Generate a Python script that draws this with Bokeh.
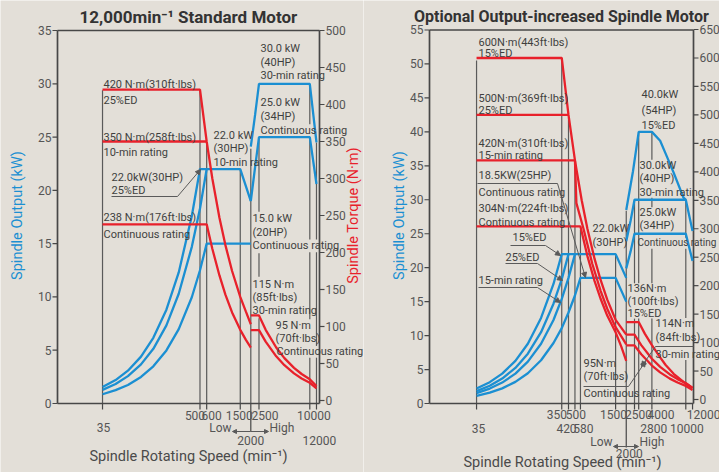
import math
from bokeh.plotting import figure
from bokeh.models import Range1d, Label, Arrow, NormalHead
from bokeh.layouts import row
from bokeh.embed import file_html
from bokeh.resources import INLINE

# ======================= DATA : 12,000 min-1 standard motor (left) =======================
L_KW_TICKS = [0, 5, 10, 15, 20, 25, 30, 35]
L_NM_TICKS = [0, 50, 100, 150, 200, 250, 300, 350, 400, 450, 500]
L_SPEED_TICKS = [35, 500, 600, 1500, 2000, 2500, 10000, 12000]
L_SPEED_LABELS = ["35", "500", "600", "1500", "2000", "2500", "10000", "12000"]

L_B25ED_N = [35, 50, 70, 100, 140, 200, 280, 400, 500, 1500, 2000]
L_B25ED_KW = [1.54, 2.20, 3.08, 4.40, 6.16, 8.80, 12.3, 17.6, 22.0, 22.0, 19.0]
L_B10M_N = [35, 50, 70, 100, 140, 200, 280, 400, 500, 600]
L_B10M_KW = [1.28, 1.83, 2.57, 3.67, 5.13, 7.33, 10.3, 14.7, 18.3, 22.0]
L_BCONT_N = [35, 50, 70, 100, 140, 200, 280, 400, 500, 600, 2000]
L_BCONT_KW = [0.87, 1.25, 1.74, 2.49, 3.49, 4.98, 6.98, 9.97, 12.5, 15.0, 15.0]
L_BHI30_N = [2000, 2250, 2500, 10000, 12000]
L_BHI30_KW = [24.1, 27.1, 30.0, 30.0, 24.5]
L_BHIC_N = [2000, 2250, 2500, 10000, 12000]
L_BHIC_KW = [19.0, 22.2, 25.0, 25.0, 20.6]

L_R25ED_N = [35, 500, 600, 700, 850, 1000, 1200, 1500, 1750, 2000]
L_R25ED_T = [420, 420, 350, 300, 247, 210, 175, 140, 120, 103]
L_R10M_N = [35, 600]
L_R10M_T = [350, 350]
L_RCONT_N = [35, 600, 700, 850, 1000, 1200, 1500, 1750, 2000]
L_RCONT_T = [238, 238, 205, 169, 143, 119, 95.5, 82, 71.6]
L_RHI30_N = [2000, 2500, 3000, 4000, 5000, 6500, 8000, 10000, 12000]
L_RHI30_T = [115, 115, 95.5, 71.6, 57.3, 44.1, 35.8, 28.6, 19.5]
L_RHIC_N = [2000, 2500, 3000, 4000, 5000, 6500, 8000, 10000, 12000]
L_RHIC_T = [95, 95, 79.6, 59.7, 47.7, 36.7, 29.8, 23.9, 16.4]

L_GUIDES = [(35, 0, 29.4), (500, 0, 29.4), (600, 0, 24.5), (1500, 0, 22.0), (2000, 0, 23.9),
            (2500, 0, 8.0), (2500, 11.9, 14.1), (2500, 18.0, 24.9),
            (10000, 0, 4.3), (10000, 7.9, 14.2), (10000, 15.4, 25.0), (10000, 26.2, 29.8),
            (12000, 0, 4.3), (12000, 5.4, 14.2), (12000, 15.4, 24.5)]

# ======================= DATA : optional output-increased motor (right) =======================
R_KW_TICKS = [0, 5, 10, 15, 20, 25, 30, 35, 40, 45, 50, 55]
R_NM_TICKS = [0, 50, 100, 150, 200, 250, 300, 350, 400, 450, 500, 550, 600, 650]
R_SPEED_TICKS = [35, 350, 420, 500, 580, 1500, 2000, 2500, 2800, 4000, 10000, 12000]
R_SPEED_LABELS = ["35", "350", "420", "500", "580", "1500", "2000", "2500", "2800", "4000", "10000", "12000"]

R_B15ED_N = [35, 50, 70, 100, 140, 200, 280, 350, 1500, 2000]
R_B15ED_KW = [2.20, 3.14, 4.40, 6.28, 8.80, 12.6, 17.6, 22.0, 22.0, 18.5]
R_B25ED_N = [35, 50, 70, 100, 140, 200, 280, 350, 420]
R_B25ED_KW = [1.83, 2.62, 3.67, 5.24, 7.33, 10.5, 14.7, 18.3, 22.0]
R_B15M_N = [35, 50, 70, 100, 140, 200, 280, 350, 420, 500]
R_B15M_KW = [1.54, 2.20, 3.08, 4.40, 6.16, 8.80, 12.3, 15.4, 18.5, 22.0]
R_BCONT_N = [35, 50, 70, 100, 140, 200, 280, 350, 420, 500, 580, 1500, 2000]
R_BCONT_KW = [1.11, 1.59, 2.23, 3.18, 4.46, 6.37, 8.91, 11.1, 13.4, 15.9, 18.5, 18.5, 15.0]
R_BHI15_N = [2000, 2400, 2800, 4000, 5000, 5800, 7200, 9400, 10000]
R_BHI15_KW = [28.5, 34.2, 40.0, 40.0, 38.7, 36.8, 34.0, 30.3, 30.0]
R_BHI30_N = [2000, 2250, 2500, 10000, 12000]
R_BHI30_KW = [23.9, 26.9, 30.0, 30.0, 25.4]
R_BHIC_N = [2000, 2250, 2500, 10000, 12000]
R_BHIC_KW = [19.9, 22.4, 25.0, 25.0, 21.0]

R_R15ED_N = [35, 350, 420, 500, 600, 700, 850, 1000, 1200, 1500, 2000]
R_R15ED_T = [600, 600, 500, 420, 350, 300, 247, 210, 175, 140, 114]
R_R25ED_N = [35, 420]
R_R25ED_T = [500, 500]
R_R15M_N = [35, 500, 520, 630, 800, 1000, 1200, 1500, 2000]
R_R15M_T = [420, 420, 345, 300, 238, 191, 159, 127, 97]
R_RCONT_N = [35, 580, 700, 850, 1000, 1200, 1500, 1750, 2000]
R_RCONT_T = [304, 304, 252, 208, 177, 147, 118, 93, 68]
R_RHI15_N = [2000, 2800, 3300, 4000, 5000, 5800, 7200, 9400, 10000, 12000]
R_RHI15_T = [136, 136, 115.7, 95.5, 73.9, 60.6, 45.1, 30.8, 28.6, 20.2]
R_RHI30_N = [2000, 2500, 3000, 4000, 5000, 6500, 8000, 10000, 12000]
R_RHI30_T = [114, 114, 95.5, 71.6, 57.3, 44.1, 35.8, 28.6, 20.2]
R_RHIC_N = [2000, 2500, 3000, 4000, 5000, 6500, 8000, 10000, 12000]
R_RHIC_T = [95, 95, 79.6, 59.7, 47.7, 36.7, 29.8, 23.9, 16.7]

R_GUIDES = [(35, 0, 50.5), (350, 0, 50.5), (420, 0, 42.1), (500, 0, 35.3), (580, 0, 25.6),
            (1500, 0, 21.9), (2000, 0, 28.4), (2500, 0, 12.5), (2500, 17.7, 29.9),
            (2800, 0, 12.5), (2800, 17.7, 40.0), (4000, 0, 12.5), (4000, 17.7, 22.8),
            (4000, 28.9, 30.3), (4000, 35.9, 40.0), (10000, 0, 6.4), (10000, 12.6, 22.8),
            (10000, 24.4, 30.0)]

# ======================= STYLE =======================
BG = "#e3dfd8"
BLUE = "#1b8fd2"
RED = "#e8212b"
GUIDE = "#5a5a5a"
AXC = "#474747"
TXT = "#3f3f3f"
TICKC = "#555555"
FONT = "Roboto, 'Liberation Sans', sans-serif"
ANN = "11px"
H = 472


class Chart:
    """page-pixel -> data helper used to place annotations and hand-drawn axes"""
    def __init__(self, a, b, fig_left, fig_width, y0, kpx, t0, tpx):
        self.a, self.b, self.y0, self.kpx, self.t0, self.tpx = a, b, y0, kpx, t0, tpx
        self.xr = (self.x(fig_left), self.x(fig_left + fig_width))
        self.yr = (self.y(H), self.y(0))
        self.tr = (self.t(H), self.t(0))
        self.width = fig_width

    def x(self, px):
        return 10 ** ((px - self.a) / self.b)

    def y(self, py):
        return (self.y0 - py) / self.kpx

    def t(self, py):
        return (self.t0 - py) / self.tpx


def make_fig(C):
    p = figure(width=C.width, height=H, x_axis_type="log", x_range=Range1d(*C.xr),
               y_range=Range1d(*C.yr), x_axis_location=None, y_axis_location=None,
               title=None, output_backend="svg", toolbar_location=None,
               min_border_left=0, min_border_right=0, min_border_top=0, min_border_bottom=0,
               background_fill_color=BG, border_fill_color=BG, outline_line_color=None)
    p.extra_y_ranges = {"torque": Range1d(*C.tr)}
    p.grid.visible = False
    return p


def label(p, x, y, text, size=ANN, align="left", color=TXT, font=FONT,
          style="normal", angle=0.0, x_offset=0, yr="default"):
    p.add_layout(Label(x=x, y=y, text=text, text_align=align, text_baseline="middle",
                       text_font=font, text_font_size=size, text_color=color,
                       text_font_style=style, angle=angle, x_offset=x_offset, y_range_name=yr))


def arrow(p, x0, y0, x1, y1, size=5):
    p.add_layout(Arrow(x_start=x0, y_start=y0, x_end=x1, y_end=y1, line_color=GUIDE,
                       line_width=1, end=NormalHead(size=size, fill_color=GUIDE,
                                                    line_color=GUIDE, line_width=1)))


def draw_axes(p, C, spine_l, spine_r, kw_ticks, nm_ticks, speed_ticks, guides):
    xl, xr = C.x(spine_l), C.x(spine_r)
    top = kw_ticks[-1]
    gx = [g[0] for g in guides]
    p.segment(x0=gx, y0=[g[1] for g in guides], x1=gx, y1=[g[2] for g in guides],
              line_color=GUIDE, line_width=1.2)
    short = [s for s in speed_ticks if s != 2000]
    p.segment(x0=short, y0=[0] * len(short), x1=short, y1=[C.y(409)] * len(short),
              line_color=AXC, line_width=1.2)
    p.segment(x0=[xl, xr, xl, xl], y0=[0, 0, 0, top], x1=[xl, xr, xr, xr], y1=[top, top, 0, top],
              line_color=AXC, line_width=1.7)
    n = len(kw_ticks)
    p.segment(x0=[C.x(spine_l - 5)] * n, y0=kw_ticks, x1=[xl] * n, y1=kw_ticks,
              line_color=AXC, line_width=1.2)
    for t in kw_ticks:
        label(p, C.x(spine_l - 6), t, str(t), size="12px", align="right", color=TICKC)
    m = len(nm_ticks)
    p.segment(x0=[xr] * m, y0=nm_ticks, x1=[C.x(spine_r + 5)] * m, y1=nm_ticks,
              line_color=AXC, line_width=1.2, y_range_name="torque")
    for t in nm_ticks:
        label(p, C.x(spine_r + 6), t, str(t), size="12px", color=TICKC, yr="torque")


# ======================= LEFT FIGURE =======================
CL = Chart(-28.3, 84.4, 0, 363, 403, 10.657, 400, 0.74)
pl = make_fig(CL)
draw_axes(pl, CL, 57, 319, L_KW_TICKS, L_NM_TICKS, L_SPEED_TICKS, L_GUIDES)
pl.segment(x0=[2000], y0=[0], x1=[2000], y1=[CL.y(431)], line_color=AXC, line_width=1.2)

for n, v in [(L_B25ED_N, L_B25ED_KW), (L_B10M_N, L_B10M_KW), (L_BCONT_N, L_BCONT_KW),
             (L_BHI30_N, L_BHI30_KW), (L_BHIC_N, L_BHIC_KW)]:
    pl.line(n, v, line_color=BLUE, line_width=2.3)
for n, v in [(L_R25ED_N, L_R25ED_T), (L_R10M_N, L_R10M_T), (L_RCONT_N, L_RCONT_T),
             (L_RHI30_N, L_RHI30_T), (L_RHIC_N, L_RHIC_T)]:
    pl.line(n, v, line_color=RED, line_width=2.3, y_range_name="torque")

L_TEXTS = [("420 N·m(310ft·lbs)", 103, 84), ("25%ED", 103, 100),
           ("350 N·m(258ft·lbs)", 103, 137), ("10-min rating", 103, 152),
           ("238 N·m(176ft·lbs)", 103, 217), ("Continuous rating", 103, 234),
           ("22.0kW(30HP)", 111, 177), ("25%ED", 111, 190),
           ("22.0 kW", 213, 135), ("(30HP)", 213, 148), ("10-min rating", 213, 162),
           ("30.0 kW", 260, 48), ("(40HP)", 260, 62), ("30-min rating", 260, 75),
           ("25.0 kW", 260, 102), ("(34HP)", 260, 116), ("Continuous rating", 260, 130),
           ("15.0 kW", 252, 218), ("(20HP)", 252, 232), ("Continuous rating", 252, 245),
           ("115 N·m", 252, 284), ("(85ft·lbs)", 252, 297), ("30-min rating", 252, 310),
           ("95 N·m", 275, 325), ("(70ft·lbs)", 275, 338), ("Continuous rating", 276, 351)]
for t, px, py in L_TEXTS:
    label(pl, CL.x(px), CL.y(py), t)

pl.line([CL.x(111), CL.x(177)], [CL.y(196), CL.y(196)], line_color=GUIDE, line_width=1)
arrow(pl, CL.x(177), CL.y(196), CL.x(200), CL.y(169))

L_TL_LAYOUT = [(0, 427, 1), (1, 415, -5), (2, 415, 5), (3, 415, -1), (4, 440, 0),
               (5, 415, 6), (6, 415, 4), (7, 440, 3)]
for i, py, dx in L_TL_LAYOUT:
    label(pl, L_SPEED_TICKS[i], CL.y(py), L_SPEED_LABELS[i], size="12px", align="center",
          color=TICKC, x_offset=dx)
label(pl, CL.x(231), CL.y(427), "Low", size="12px", align="right", color=TICKC)
label(pl, CL.x(269), CL.y(427), "High", size="12px", color=TICKC)
arrow(pl, 2000, CL.y(431), CL.x(232), CL.y(431), size=4)
arrow(pl, 2000, CL.y(431), CL.x(268), CL.y(431), size=4)

label(pl, CL.x(188), CL.y(456), "Spindle Rotating Speed (min⁻¹)", size="14.5px",
      align="center", color="#4a4a4a")
label(pl, CL.x(190), CL.y(16), "12,000min⁻¹  Standard Motor", size="17px",
      align="center", color="#333333", style="bold")
label(pl, CL.x(17), CL.y(215), "Spindle Output (kW)", size="14.5px", align="center",
      color=BLUE, angle=math.pi / 2)
label(pl, CL.x(353), CL.y(215), "Spindle Torque (N·m)", size="14.5px", align="center",
      color=RED, angle=math.pi / 2)

# ======================= RIGHT FIGURE =======================
CR = Chart(344.5, 85.2, 363, 356, 403, 6.791, 399, 0.5692)
pr = make_fig(CR)
draw_axes(pr, CR, 429, 693, R_KW_TICKS, R_NM_TICKS, R_SPEED_TICKS, R_GUIDES)
pr.segment(x0=[2000], y0=[0], x1=[2000], y1=[CR.y(447)], line_color=AXC, line_width=1.2)

for n, v in [(R_B15ED_N, R_B15ED_KW), (R_B25ED_N, R_B25ED_KW), (R_B15M_N, R_B15M_KW),
             (R_BCONT_N, R_BCONT_KW), (R_BHI15_N, R_BHI15_KW), (R_BHI30_N, R_BHI30_KW),
             (R_BHIC_N, R_BHIC_KW)]:
    pr.line(n, v, line_color=BLUE, line_width=2.3)
for n, v in [(R_R15ED_N, R_R15ED_T), (R_R25ED_N, R_R25ED_T), (R_R15M_N, R_R15M_T),
             (R_RCONT_N, R_RCONT_T), (R_RHI15_N, R_RHI15_T), (R_RHI30_N, R_RHI30_T),
             (R_RHIC_N, R_RHIC_T)]:
    pr.line(n, v, line_color=RED, line_width=2.3, y_range_name="torque")

R_TEXTS = [("600N·m(443ft·lbs)", 478, 42), ("15%ED", 478, 53),
           ("500N·m(369ft·lbs)", 478, 98), ("25%ED", 478, 110),
           ("420N·m(310ft·lbs)", 478, 143), ("15-min rating", 478, 155),
           ("18.5KW(25HP)", 478, 175), ("Continuous rating", 478, 192),
           ("304N·m(224ft·lbs)", 478, 208), ("Continuous rating", 478, 222),
           ("15%ED", 512, 237), ("25%ED", 505, 257), ("15-min rating", 478, 280),
           ("22.0kW", 592, 228), ("(30HP)", 592, 242),
           ("136N·m", 627, 288), ("(100ft·lbs)", 627, 301), ("15%ED", 627, 313),
           ("114N·m", 655, 323), ("(84ft·lbs)", 655, 337), ("30-min rating", 655, 354),
           ("95N·m", 583, 363), ("(70ft·lbs)", 583, 376), ("Continuous rating", 583, 393),
           ("40.0kW", 641, 94), ("(54HP)", 641, 110), ("15%ED", 641, 125),
           ("30.0kW", 639, 165), ("(40HP)", 639, 178), ("30-min rating", 639, 192),
           ("25.0kW", 639, 212), ("(34HP)", 639, 225)]
for t, px, py in R_TEXTS:
    label(pr, CR.x(px), CR.y(py), t)
label(pr, CR.x(637), CR.y(242), "Continuous rating", size="10px")

R_LEADERS = [((510, 245), (545, 245), (560, 255)),
             ((505, 263), (537, 263), (562, 280)),
             ((478, 287), (537, 287), (560, 302)),
             ((477, 183), (557, 183), (585, 277)),
             ((583, 386), (628, 386), (645, 361)),
             ((693, 346), (655, 346), (641, 366))]
for a, b, c in R_LEADERS:
    pr.line([CR.x(a[0]), CR.x(b[0])], [CR.y(a[1]), CR.y(b[1])], line_color=GUIDE, line_width=1)
    arrow(pr, CR.x(b[0]), CR.y(b[1]), CR.x(c[0]), CR.y(c[1]))

R_TL_LAYOUT = [(0, 428, 2), (1, 414, -5), (2, 428, -2), (3, 414, 1), (4, 428, 3),
               (5, 414, -2), (6, 453, 3), (7, 414, 4), (8, 428, 15), (9, 414, 9),
               (10, 428, 1), (11, 414, 11)]
for i, py, dx in R_TL_LAYOUT:
    label(pr, R_SPEED_TICKS[i], CR.y(py), R_SPEED_LABELS[i], size="12px", align="center",
          color=TICKC, x_offset=dx)
label(pr, CR.x(612), CR.y(441), "Low", size="12px", align="right", color=TICKC)
label(pr, CR.x(639), CR.y(441), "High", size="12px", color=TICKC)
arrow(pr, 2000, CR.y(446), CR.x(613), CR.y(446), size=4)
arrow(pr, 2000, CR.y(446), CR.x(638), CR.y(446), size=4)

label(pr, CR.x(562), CR.y(462), "Spindle Rotating Speed (min⁻¹)", size="14.5px",
      align="center", color="#4a4a4a")
label(pr, CR.x(561), CR.y(16), "Optional Output-increased Spindle Motor", size="16px",
      align="center", color="#333333", style="bold")
label(pr, CR.x(399), CR.y(215), "Spindle Output (kW)", size="14.5px", align="center",
      color=BLUE, angle=math.pi / 2)

layout = row(pl, pr)
open("out.html", "w").write(file_html(layout, INLINE))
